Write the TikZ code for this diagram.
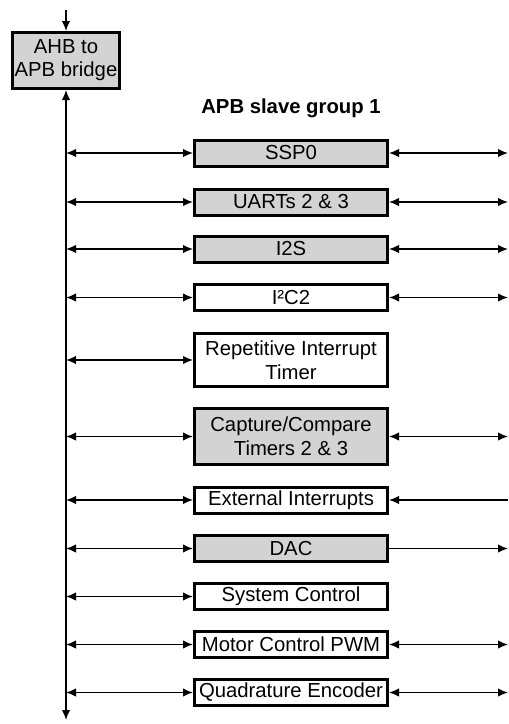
\documentclass[tikz,border=0pt]{standalone}
\usepackage{fontspec}
\setmainfont{Liberation Sans}
\usetikzlibrary{arrows.meta}
\definecolor{boxgray}{RGB}{211,211,211}
\begin{document}
\begin{tikzpicture}[x=1pt,y=-1pt,
  every node/.style={font=\fontsize{20.3}{24}\selectfont},
  blk/.style={draw,line width=3pt,minimum width=193pt,minimum height=26pt,inner sep=0pt,align=center},
  gry/.style={blk,fill=boxgray},
  wht/.style={blk,fill=white},
  conn/.style={line width=1.4pt},
  bi/.style={conn,{Latex[length=10pt,width=8.5pt]}-{Latex[length=10pt,width=8.5pt]}},
  uni/.style={conn,-{Latex[length=10pt,width=8.5pt]}}
]
\useasboundingbox (0,0) rectangle (509,724);
\node[gry,minimum width=107pt,minimum height=56pt,font=\fontsize{20.3}{23}\selectfont] (bridge) at (66,60.5) {AHB to\\APB bridge};
\coordinate (top) at (66,10);
\coordinate (busend) at (66,720);
\draw[uni] (top) -- (bridge.north);
\draw[bi] (bridge.south) -- (busend);
\node[font=\bfseries\fontsize{20.3}{24}\selectfont] (title) at (291,108) {APB slave group 1};

\node[gry] (ssp) at (291,153) {SSP0};
\node[gry] (uart) at (291,202) {UARTs 2 \& 3};
\node[gry] (i2s) at (291,249) {I2S};
\node[wht] (i2c) at (291,297.5) {I²C2};
\node[wht,minimum height=53pt] (rit) at (291,360) {Repetitive Interrupt\\Timer};
\node[gry,minimum height=56pt] (cap) at (291,436.5) {Capture/Compare\\Timers 2 \& 3};
\node[wht] (ext) at (291,500) {External Interrupts};
\node[gry] (dac) at (291,548.5) {DAC};
\node[wht] (sys) at (291,596.5) {System Control};
\node[wht] (pwm) at (291,644.5) {Motor Control PWM};
\node[wht] (qei) at (291,692.5) {Quadrature Encoder};

\foreach \n in {ssp,uart,i2s,i2c,rit,cap,ext,dac,sys,pwm,qei}{
  \coordinate (L\n) at (66,0 |- \n.west);
  \coordinate (R\n) at (508,0 |- \n.east);
  \draw[bi] (L\n) -- (\n.west);
}
\foreach \n in {ssp,uart,i2s,i2c,cap,pwm,qei}{
  \draw[bi] (\n.east) -- (R\n);
}
\draw[uni] (Rext) -- (ext.east);
\draw[uni] (dac.east) -- (Rdac);
\end{tikzpicture}
\end{document}
